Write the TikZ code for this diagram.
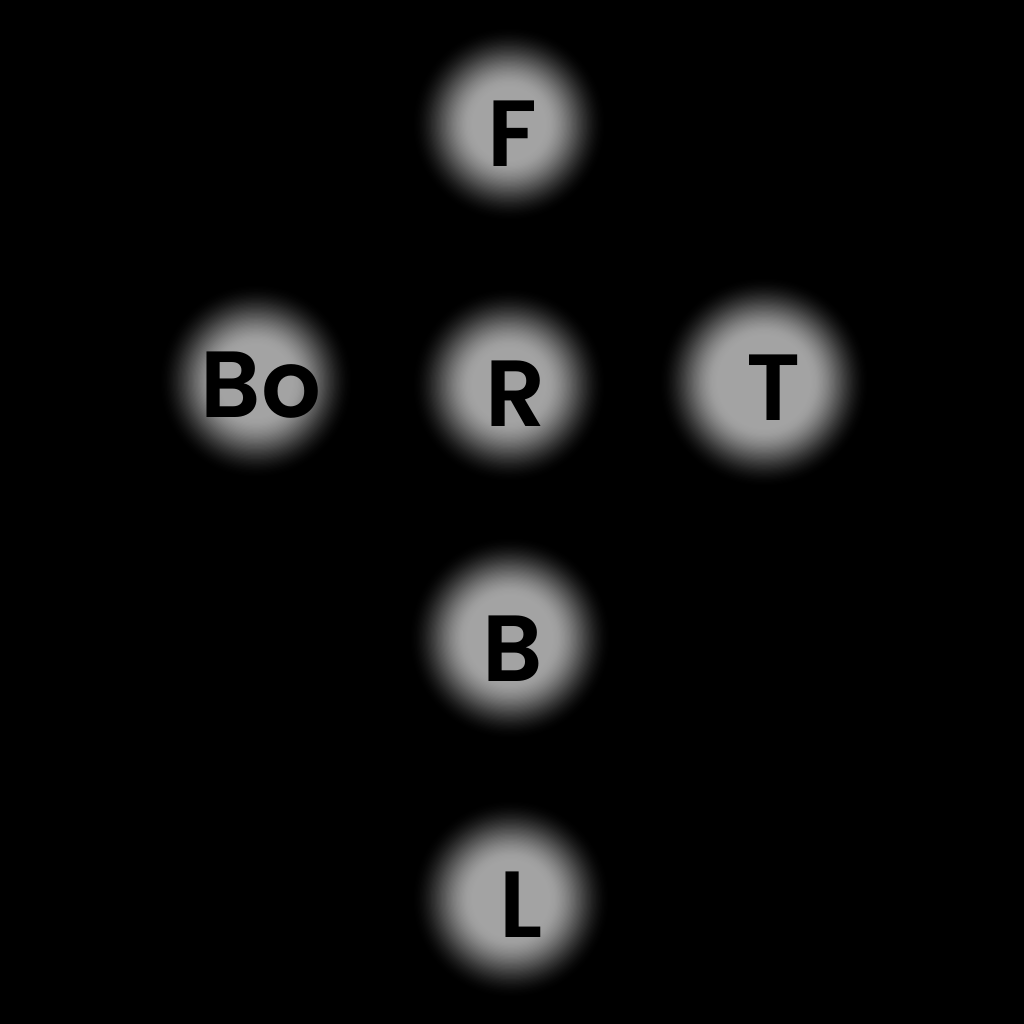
\documentclass[tikz,border=0pt]{standalone}
\usepackage{fontspec}
\setmainfont{Poppins}[BoldFont={Poppins SemiBold}]
\newcommand{\glowspot}[5]{% name, x, y, outer radius, inner radius
  \coordinate (#1) at (#2,#3);
  \foreach \i in {0,...,50}{%
    \pgfmathsetmacro\tt{\i/50}%
    \pgfmathsetmacro\rr{#4-(#4-#5)*\tt}%
    \pgfmathsetmacro\pp{64*(3*\tt*\tt-2*\tt*\tt*\tt)}%
    \fill[white!\pp!black] (#1) circle (\rr);
  }%
}
\tikzset{
  letter/.style={anchor=base, inner sep=0pt, text=black, font=\bfseries\fontsize{94}{94}\selectfont}
}
\begin{document}
\begin{tikzpicture}[x=1pt,y=-1pt]
\fill[black] (0,0) rectangle (1024,1024);
\useasboundingbox (0,0) rectangle (1024,1024);
\glowspot{gF}{509}{124}{98}{36}
\glowspot{gR}{509}{385}{98}{36}
\glowspot{gB}{510}{638}{102}{42}
\glowspot{gL}{511}{899}{100}{38}
\glowspot{gBo}{256}{381}{98}{36}
\glowspot{gT}{764}{382}{106}{46}
\node[letter] (F) at (512,167) {F};
\node[letter] (R) at (516,426) {R};
\node[letter] (B) at (513,681) {B};
\node[letter] (L) at (521,937) {L};
\node[letter] (Bo) at (261,417) {Bo};
\node[letter] (T) at (774,420) {T};
\end{tikzpicture}
\end{document}
